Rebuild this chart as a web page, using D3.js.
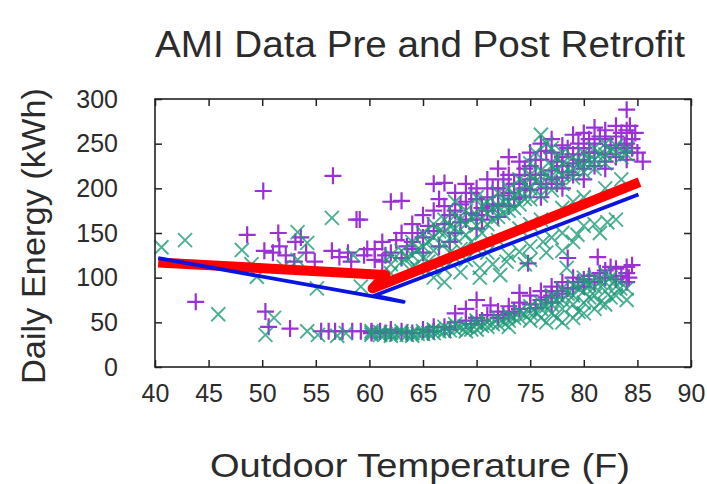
<!DOCTYPE html>
<html>
<head>
<meta charset="utf-8">
<script src="https://cdn.jsdelivr.net/npm/d3@7"></script>
<style>
  body { margin: 0; background: #fff; }
  text { font-family: "Liberation Sans", Arial, sans-serif; fill: #2b2b2b; }
</style>
</head>
<body>
<div id="chart"></div>
<script>
// tick labels
var tempTicks = [40, 45, 50, 55, 60, 65, 70, 75, 80, 85, 90];
var energyTicks = [0, 50, 100, 150, 200, 250, 300];

// pre retrofit (purple +), [temp, kWh]
var preLeft = [[43.8,73],[48.6,148],[50.1,197],[50.3,62],[50.6,45],[51.5,150],[51.6,135],[52.2,125],
  [52.6,43],[53.1,140],[53.6,145],[54.1,128],[54.9,118],[55.5,40],[56.2,40],[56.5,130],[56.6,214],
  [56.8,40],[57.2,123],[57.5,40],[58.0,128],[58.4,40],[58.8,165],[59.2,40],[59.5,125],[59.8,132],
  [50.2,130],[51.0,128],[53.0,118],[58.3,118],[59.1,165]];
var preUpper = [[60.5,120],[60.5,132],[61.2,140],[61.2,118],[62.0,185],[62.0,128],[63.0,186],[63.0,150],
  [63.0,122],[64.0,140],[64.0,160],[64.0,132],[65.0,170],[65.0,145],[65.0,128],[66.0,205],[66.0,175],
  [66.0,152],[67.0,206],[67.0,160],[67.0,180],[68.0,175],[68.0,195],[68.0,150],[69.0,205],[69.0,185],
  [69.0,165],[70.0,200],[70.0,170],[70.0,188],[70.0,155],[71.0,210],[71.0,190],[71.0,175],[72.0,222],
  [72.0,200],[72.0,182],[72.0,168],[73.0,235],[73.0,215],[73.0,195],[73.0,180],[74.0,230],[74.0,205],
  [74.0,190],[74.0,215],[75.0,225],[75.0,240],[75.0,210],[75.0,198],[76.0,250],[76.0,232],[76.0,215],
  [76.0,205],[76.0,190],[77.0,255],[77.0,240],[77.0,220],[77.0,210],[78.0,248],[78.0,235],[78.0,225],
  [78.0,212],[78.0,200],[79.0,260],[79.0,238],[79.0,228],[79.0,215],[80.0,262],[80.0,245],[80.0,230],
  [80.0,222],[80.0,210],[81.0,268],[81.0,250],[81.0,240],[81.0,225],[82.0,265],[82.0,255],[82.0,238],
  [82.0,230],[82.0,222],[83.0,270],[83.0,258],[83.0,245],[83.0,235],[84.0,288],[84.0,265],[84.0,250],
  [84.0,240],[84.0,232],[84.5,255],[84.5,245],[85.5,230],
  [65.5,158],[66.5,188],[67.5,170],[68.5,182],[69.5,195],[70.5,178],[71.5,200],[72.5,210],[73.5,205],
  [74.5,222],[75.5,232],[76.5,242],[77.5,230],[78.5,245],[79.5,250],[80.5,240],[81.5,258],[82.5,248],
  [83.5,262],[84.3,270],[84.8,262],[83.8,248],[85.0,240],[80.5,255],[79.5,232],[78.5,218],[77.5,205],
  [76.5,200],[75.5,215],[74.5,200],[73.5,188],[72.5,192],[71.5,180],[70.5,165],[69.5,172],[68.5,162],
  [67.5,140],[66.5,135],[64.5,150],[63.5,135],[62.5,142],[61.5,125]];
var preLower = [[60.2,38],[60.2,40],[61.0,40],[62.0,38],[62.0,42],[63.0,40],[64.0,38],[65.0,42],[66.0,40],
  [66.0,45],[67.0,45],[68.0,50],[68.0,60],[69.0,52],[69.0,65],[70.0,55],[70.0,75],[71.0,58],[71.3,69],
  [72.0,55],[72.0,62],[73.0,60],[73.0,68],[74.0,65],[74.0,83],[74.0,72],[74.8,116],[75.0,70],[75.0,80],
  [76.0,75],[76.0,85],[77.0,80],[77.0,72],[77.0,90],[78.0,82],[78.0,95],[78.5,122],[79.0,88],[79.0,100],
  [80.0,90],[80.0,98],[81.0,95],[81.3,123],[82.0,100],[82.0,108],[83.0,98],[83.0,110],[84.0,105],
  [84.0,112],[84.0,95],[84.5,114],
  [61.5,38],[63.5,38],[65.5,39],[67.5,42],[69.5,48],[70.5,52],[72.5,58],[73.5,62],[75.5,66],[76.5,78],
  [77.5,85],[78.5,88],[79.5,95],[80.5,102],[81.5,105],[82.5,112],[83.5,102],[84.2,100]];

// post retrofit (teal x)
var postLeft = [[40.6,134],[42.8,142],[45.9,59],[48.1,131],[49.5,101],[50.3,36],[51.1,55],[53.3,151],
  [53.3,120],[54.2,139],[54.2,40],[55.1,88],[55.2,36],[56.5,167],[57.0,35],[57.8,38],[58.5,125],
  [59.2,90],[52.0,112],[49.0,115]];
var postUpper = [[62.0,115],[62.0,125],[62.0,105],[63.0,130],[63.0,118],[64.0,140],[64.0,125],[64.0,112],
  [65.0,150],[65.0,135],[65.0,122],[66.0,145],[66.0,160],[66.0,130],[67.0,165],[67.0,150],[67.0,138],
  [68.0,170],[68.0,155],[68.0,145],[68.0,185],[69.0,175],[69.0,160],[69.0,148],[70.0,190],[70.0,170],
  [70.0,158],[71.0,185],[71.0,172],[71.0,160],[72.0,195],[72.0,180],[72.0,168],[73.0,200],[73.0,185],
  [73.0,175],[74.0,210],[74.0,195],[74.0,182],[75.0,215],[75.0,200],[75.0,188],[75.0,228],[76.0,260],
  [76.0,220],[76.0,205],[76.0,192],[77.0,245],[77.0,225],[77.0,210],[77.0,198],[78.0,240],[78.0,228],
  [78.0,215],[78.0,205],[79.0,235],[79.0,222],[79.0,212],[80.0,240],[80.0,228],[80.0,218],[81.0,245],
  [81.0,232],[81.0,222],[82.0,250],[82.0,238],[82.0,228],[83.0,248],[83.0,240],[84.0,245],[84.0,238],
  [66.0,100],[67.0,110],[67.0,95],[68.5,106],[70.3,111],[70.3,100],[72.2,103],[72.8,118],[73.0,125],
  [74.0,129],[75.0,135],[75.0,120],[76.2,140],[77.0,145],[78.0,150],[78.0,130],[79.4,148],[80.0,158],
  [81.0,160],[82.2,162],[83.0,165],
  [63.5,122],[64.5,132],[65.5,140],[66.5,152],[67.5,158],[68.5,165],[69.5,168],[70.5,180],[71.5,178],
  [72.5,185],[73.5,192],[74.5,205],[75.5,208],[76.5,215],[77.5,220],[78.5,222],[79.5,228],[80.5,232],
  [81.5,238],[82.5,242],[83.5,235],[76.5,250],[75.5,240],[77.5,235],[74.5,188],[73.5,178],[72.5,172],
  [71.5,165],[70.5,150],[69.5,140],[68.5,132],[67.5,128],[65.5,118],[64.5,110],[76.5,128],[79.0,140],
  [81.5,150],[69.0,120],[71.5,115],[74.5,115],
  [66.0,112],[68.0,122],[70.0,132],[72.0,142],[74.0,155],[76.0,165],[78.0,178],[80.0,190],[82.0,200],
  [83.5,210],[71.0,128],[75.0,160],[79.0,185]];
var postLower = [[60.2,36],[60.2,38],[60.2,40],[61.0,36],[61.0,39],[62.0,38],[62.0,35],[63.0,37],[63.0,40],
  [64.0,38],[64.0,35],[65.0,40],[65.0,37],[66.0,38],[66.0,42],[67.0,40],[67.0,45],[68.0,42],[68.0,48],
  [69.0,45],[69.0,40],[70.0,48],[70.0,42],[70.0,52],[71.0,50],[71.0,45],[72.0,48],[72.0,55],[73.0,52],
  [73.0,45],[73.0,58],[74.0,55],[74.0,62],[75.0,60],[75.0,68],[75.0,52],[76.0,65],[76.0,72],[76.0,55],
  [77.0,70],[77.0,80],[77.0,60],[78.0,75],[78.0,88],[78.0,65],[78.0,50],[78.4,111],[79.0,80],[79.0,92],
  [79.0,70],[79.0,55],[80.0,85],[80.0,95],[80.0,100],[80.0,72],[80.0,60],[81.0,90],[81.0,100],[81.0,80],
  [81.0,65],[82.0,95],[82.0,85],[82.0,105],[82.0,70],[83.0,90],[83.0,98],[83.0,80],[83.4,88],[84.0,88],
  [84.0,75],
  [61.5,37],[62.5,36],[63.5,36],[64.5,37],[65.5,38],[66.5,40],[67.5,41],[68.5,44],[69.5,42],[70.5,46],
  [71.5,48],[72.5,50],[73.5,55],[74.5,58],[75.5,62],[76.5,68],[77.5,75],[78.5,82],[79.5,88],[80.5,92],
  [81.5,95],[82.5,100],[79.5,62],[80.5,78],[81.5,72],[77.5,55],[76.5,50],[82.5,78]];

// fitted lines (drawn as one stroke each, folding back at the break)
var preFit = [[40.3,117],[61.5,103],[60.3,88],[85.2,207]];
var postFit = [[40.3,122],[63.2,73],[60.5,80],[85.1,193]];

var width = 707, height = 484;
var margin = {top: 99, right: 16, bottom: 117, left: 155};
var w = width - margin.left - margin.right,
    h = height - margin.top - margin.bottom;

var svg = d3.select("#chart").append("svg")
    .attr("width", width)
    .attr("height", height);

var g = svg.append("g")
    .attr("transform", "translate(" + margin.left + "," + margin.top + ")");

var x = d3.scaleLinear().domain([40, 90]).range([0, w]);
var y = d3.scaleLinear().domain([0, 300]).range([h, 0]);

//points
var plus = "M-8.5,0H8.5M0,-8.5V8.5";
var cross = "M-7,-7L7,7M-7,7L7,-7";

g.append("g").selectAll("path")
    .data(preLeft.concat(preUpper, preLower))
    .enter().append("path")
    .attr("d", plus)
    .attr("transform", function(d) { return "translate(" + x(d[0]) + "," + y(d[1]) + ")"; })
    .attr("stroke", "#9a30d6")
    .attr("stroke-width", 2.2)
    .attr("fill", "none");

g.append("g").selectAll("path")
    .data(postLeft.concat(postUpper, postLower))
    .enter().append("path")
    .attr("d", cross)
    .attr("transform", function(d) { return "translate(" + x(d[0]) + "," + y(d[1]) + ")"; })
    .attr("stroke", "#1e9c78")
    .attr("stroke-opacity", 0.8)
    .attr("stroke-width", 1.9)
    .attr("fill", "none");

//fit lines
var line = d3.line().x(function(d) { return x(d[0]); }).y(function(d) { return y(d[1]); });

g.append("path").attr("d", line(preFit))
    .attr("stroke", "#ff0000").attr("stroke-width", 10)
    .attr("stroke-linejoin", "round").attr("fill", "none");
g.append("path").attr("d", line(postFit))
    .attr("stroke", "#0a14e0").attr("stroke-width", 3.8)
    .attr("stroke-linejoin", "round").attr("fill", "none");

//axes with inward ticks, mirrored
g.append("g").attr("transform", "translate(0," + h + ")")
    .call(d3.axisBottom(x).tickValues(tempTicks).tickSizeInner(-7).tickSizeOuter(0).tickPadding(17))
    .call(function(a) { a.select(".domain").remove(); })
    .selectAll("text").attr("font-size", 25).attr("fill", "#2b2b2b");
g.append("g")
    .call(d3.axisTop(x).tickValues(tempTicks).tickSizeInner(-7).tickSizeOuter(0).tickFormat(""))
    .call(function(a) { a.select(".domain").remove(); });
g.append("g")
    .call(d3.axisLeft(y).tickValues(energyTicks).tickSizeInner(-7).tickSizeOuter(0).tickPadding(37))
    .call(function(a) { a.select(".domain").remove(); })
    .selectAll("text").attr("font-size", 25).attr("fill", "#2b2b2b");
g.append("g").attr("transform", "translate(" + w + ",0)")
    .call(d3.axisRight(y).tickValues(energyTicks).tickSizeInner(-7).tickSizeOuter(0).tickFormat(""))
    .call(function(a) { a.select(".domain").remove(); });

g.selectAll(".tick line").attr("stroke", "#222").attr("stroke-width", 1.5);

g.append("rect")
    .attr("width", w).attr("height", h)
    .attr("fill", "none").attr("stroke", "#222").attr("stroke-width", 1.6);

//titles
svg.append("text")
    .attr("x", 420).attr("y", 57)
    .attr("text-anchor", "middle")
    .attr("font-size", 37)
    .attr("textLength", 530).attr("lengthAdjust", "spacingAndGlyphs")
    .text("AMI Data Pre and Post Retrofit");

svg.append("text")
    .attr("x", 420).attr("y", 477)
    .attr("text-anchor", "middle")
    .attr("font-size", 34)
    .attr("textLength", 420).attr("lengthAdjust", "spacingAndGlyphs")
    .text("Outdoor Temperature (F)");

svg.append("text")
    .attr("transform", "translate(45,236) rotate(-90)")
    .attr("text-anchor", "middle")
    .attr("font-size", 33)
    .attr("textLength", 296).attr("lengthAdjust", "spacingAndGlyphs")
    .text("Daily Energy (kWh)");
</script>
</body>
</html>
